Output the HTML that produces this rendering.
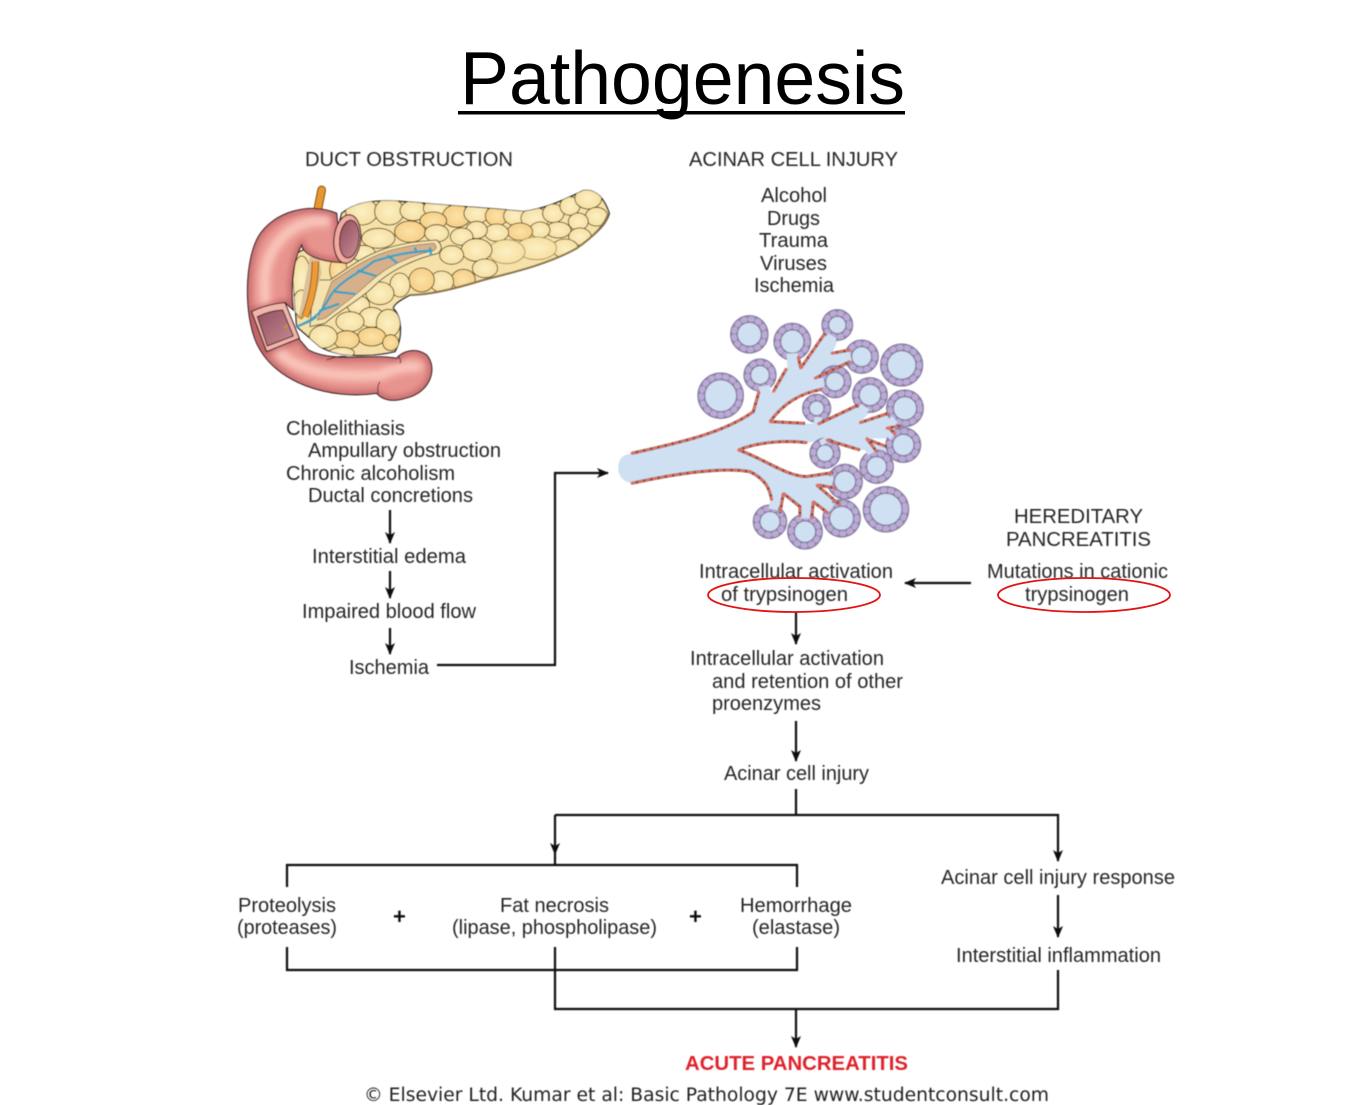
<!DOCTYPE html>
<html><head><meta charset="utf-8"><title>Pathogenesis</title>
<style>
html,body{margin:0;padding:0;background:#fff;width:1365px;height:1105px;overflow:hidden}
svg{display:block}
text{font-family:"Liberation Sans",Arial,sans-serif;font-size:20px;fill:#262626}
</style></head><body>
<svg width="1365" height="1105" viewBox="0 0 1365 1105" xmlns="http://www.w3.org/2000/svg">
<defs>
<filter id="b" x="-5%" y="-5%" width="110%" height="110%"><feGaussianBlur stdDeviation="0.45"/></filter>
<filter id="bz" x="-5%" y="-5%" width="110%" height="110%"><feGaussianBlur stdDeviation="1.8"/></filter>
<filter id="b3" x="-20%" y="-20%" width="140%" height="140%"><feGaussianBlur stdDeviation="10"/></filter>
<marker id="ah" viewBox="0 0 12 12" refX="11" refY="6" markerWidth="12" markerHeight="12" markerUnits="userSpaceOnUse" orient="auto"><path d="M0,1 L12,6 L0,11 L3,6 Z" fill="#111"/></marker>
<radialGradient id="c1"><stop offset="0" stop-color="#fcf0c4"/><stop offset="1" stop-color="#f6dfa2"/></radialGradient>
<radialGradient id="c2"><stop offset="0" stop-color="#fbe3a8"/><stop offset="1" stop-color="#f6cf86"/></radialGradient>
<linearGradient id="op" x1="0" y1="0" x2="1" y2="1"><stop offset="0" stop-color="#8f4f60"/><stop offset="1" stop-color="#c88a92"/></linearGradient>
<path id="pb" d="M335,100 C390,55 470,60 560,68 C680,80 790,85 880,95 C950,85 1000,60 1060,32 C1100,25 1125,60 1138,100 C1130,135 1090,170 1040,205 C960,250 860,275 760,300 C680,325 600,345 540,345 C510,360 490,375 490,385 C515,410 520,470 495,515 C430,530 330,535 270,500 L200,440 L190,300 L200,220 L320,160 Z"/>
<path id="dd" d="M320,100 C240,65 130,95 85,170 C45,240 40,400 80,490 C135,610 300,660 440,640 Q470,672 525,655 C600,640 625,565 590,525 C555,500 515,515 500,535 C420,520 310,550 235,510 L205,475 L110,515 L65,395 L165,368 L190,390 C180,320 190,240 215,195 C220,225 270,245 335,248 Z"/>
<clipPath id="pc"><use href="#pb"/></clipPath>
<clipPath id="dc"><use href="#dd"/></clipPath>
</defs>

<text x="460" y="104" textLength="445" lengthAdjust="spacingAndGlyphs" style="font-size:75px;fill:#000">Pathogenesis</text>
<rect x="458" y="111" width="447" height="3.5" fill="#000"/>

<!-- Pancreas -->
<g transform="translate(230,180) scale(0.3333)" filter="url(#bz)">
  <path d="M275,30 L263,90" stroke="#7a4a10" stroke-width="26" stroke-linecap="round" fill="none"/>
  <path d="M275,30 L263,90" stroke="#e8972f" stroke-width="20" stroke-linecap="round" fill="none"/>
  <use href="#pb" fill="#f6e2a8" stroke="#222" stroke-width="4"/>
  <g clip-path="url(#pc)" fill="url(#c1)" stroke="#3d2f14" stroke-width="2.5">
    <ellipse cx="395" cy="95" rx="48" ry="40"/><ellipse cx="478" cy="95" rx="44" ry="40"/><ellipse cx="550" cy="92" rx="40" ry="30"/>
    <ellipse cx="620" cy="85" rx="40" ry="26"/><ellipse cx="680" cy="108" rx="42" ry="34" fill="url(#c2)"/><ellipse cx="740" cy="100" rx="38" ry="30"/>
    <ellipse cx="800" cy="108" rx="34" ry="30" fill="url(#c2)"/><ellipse cx="855" cy="108" rx="34" ry="28"/><ellipse cx="915" cy="115" rx="42" ry="32"/>
    <ellipse cx="970" cy="100" rx="32" ry="28"/><ellipse cx="1020" cy="78" rx="30" ry="28"/><ellipse cx="1075" cy="55" rx="40" ry="32"/>
    <ellipse cx="1100" cy="110" rx="34" ry="28"/><ellipse cx="1045" cy="125" rx="30" ry="26"/><ellipse cx="985" cy="150" rx="38" ry="24"/>
    <ellipse cx="1050" cy="170" rx="34" ry="26"/><ellipse cx="1005" cy="205" rx="40" ry="28"/><ellipse cx="930" cy="150" rx="30" ry="24"/>
    <ellipse cx="870" cy="155" rx="38" ry="26" fill="url(#c2)"/><ellipse cx="800" cy="158" rx="36" ry="26"/><ellipse cx="740" cy="150" rx="32" ry="26"/>
    <ellipse cx="610" cy="122" rx="40" ry="26" fill="url(#c2)"/><ellipse cx="540" cy="155" rx="46" ry="32" fill="url(#c2)"/><ellipse cx="620" cy="160" rx="36" ry="26"/>
    <ellipse cx="695" cy="170" rx="34" ry="26"/><ellipse cx="445" cy="175" rx="50" ry="30"/>
    <ellipse cx="920" cy="205" rx="60" ry="34" stroke="#a08a50"/><ellipse cx="830" cy="215" rx="55" ry="36" stroke="#a08a50"/><ellipse cx="740" cy="210" rx="46" ry="34"/>
    <ellipse cx="665" cy="225" rx="36" ry="28"/><ellipse cx="765" cy="265" rx="38" ry="28"/><ellipse cx="700" cy="298" rx="36" ry="30" fill="url(#c2)"/>
    <ellipse cx="635" cy="305" rx="36" ry="32"/><ellipse cx="575" cy="300" rx="38" ry="36" fill="url(#c2)"/><ellipse cx="510" cy="315" rx="30" ry="36"/>
    <ellipse cx="450" cy="340" rx="42" ry="34"/><ellipse cx="385" cy="375" rx="34" ry="28"/><ellipse cx="425" cy="412" rx="38" ry="30"/>
    <ellipse cx="475" cy="430" rx="36" ry="42"/><ellipse cx="360" cy="425" rx="42" ry="30"/><ellipse cx="425" cy="470" rx="42" ry="28" fill="url(#c2)"/>
    <ellipse cx="350" cy="480" rx="38" ry="28" fill="url(#c2)"/><ellipse cx="280" cy="470" rx="42" ry="34"/><ellipse cx="482" cy="488" rx="24" ry="24" fill="url(#c2)"/>
    <ellipse cx="335" cy="518" rx="38" ry="16"/><ellipse cx="215" cy="300" rx="28" ry="72"/><ellipse cx="215" cy="370" rx="26" ry="40"/><ellipse cx="325" cy="270" rx="26" ry="40" fill="url(#c2)"/>
    <ellipse cx="400" cy="220" rx="36" ry="24"/>
  </g>
  <path d="M1135,100 C1125,135 1090,170 1040,205 C960,250 860,275 760,300 C680,325 600,345 540,345" fill="none" stroke="#8a7448" stroke-width="6"/>
  <path d="M300,300 C380,250 430,190 620,180 Q645,200 625,220 C560,235 480,270 430,320 C390,360 330,390 285,430 L240,440 L250,300 Z" fill="#f4e3ae" stroke="#3a2d18" stroke-width="2.5"/>
  <path d="M305,305 C385,255 445,200 612,190 Q625,203 610,212 C540,228 470,258 415,310 C380,345 330,380 285,415 L262,420 Z" fill="#d6b08a" stroke="#8a6a46" stroke-width="2"/>
  <path d="M240,230 L268,235 L275,280 L240,400 L205,415 Z" fill="#dcc09a"/>
  <path d="M256,245 C256,300 245,360 225,410" fill="none" stroke="#7a4a10" stroke-width="22"/>
  <path d="M256,245 C256,300 245,360 225,410" fill="none" stroke="#ee9a30" stroke-width="17"/>
  <g fill="none" stroke="#3ba2c4" stroke-width="7" stroke-linecap="round">
    <path d="M205,438 C260,415 275,395 300,350 C330,300 390,280 430,245 C490,225 540,215 605,212"/>
    <path d="M270,392 L325,372 M315,335 L375,342 M385,272 L438,288 M475,228 L500,248 M555,205 L560,215 M600,205 L603,225"/>
  </g>
  <use href="#dd" fill="#e8948e"/>
  <g clip-path="url(#dc)">
    <path d="M300,125 C200,110 120,180 105,280 C100,380 115,460 160,530 C240,590 370,590 450,585 C500,560 560,550 570,570" fill="none" stroke="#f9c4ba" stroke-width="34" filter="url(#b3)"/>
    <use href="#dd" fill="none" stroke="#b85a60" stroke-width="16" filter="url(#b3)"/>
  </g>
  <use href="#dd" fill="none" stroke="#3a2020" stroke-width="3.5"/>
  <ellipse cx="352" cy="177" rx="40" ry="73" transform="rotate(6 352 177)" fill="#f2aaa0" stroke="#3a2020" stroke-width="3.5"/>
  <ellipse cx="358" cy="177" rx="29" ry="57" transform="rotate(6 358 177)" fill="url(#op)" stroke="#3a2020" stroke-width="3"/>
  <path d="M65,395 Q110,372 165,368 L208,475 L110,515 Z" fill="#f2b5aa" stroke="#3a2020" stroke-width="3.5"/>
  <path d="M82,410 Q120,392 158,390 L190,468 L112,498 Z" fill="url(#op)" stroke="#3a2020" stroke-width="3"/>
  <path d="M290,540 Q330,525 350,530 M505,530 Q515,540 510,550 M445,640 Q440,620 450,605" fill="none" stroke="#3a2020" stroke-width="2.5"/>
  <path d="M160,440 L175,432 L170,448 Z M200,410 L225,408 L215,420 Z" fill="#c8912c"/>
  <path d="M200,440 C225,430 240,425 260,410" fill="none" stroke="#3ba2c4" stroke-width="7"/>
</g>

<!-- Acinar tree -->
<g transform="translate(610,300) scale(0.3333)" filter="url(#bz)">
  <path fill="#cfe0f2" d="M60,462 C200,430 340,400 430,335 L447,275 L490,275 L530,205 L572,205 L645,100 L690,105 L668,158 L720,150 L745,185 L615,235 L680,225 L680,265 L635,268 C570,280 520,310 480,365 L585,370 L625,372 L745,315 L790,325 L750,368 L835,340 L860,370 L840,382 L860,410 L835,415 L785,415 L830,440 L825,470 L770,450 L750,450 L650,420 L590,428 C530,420 450,425 385,450 C460,475 530,530 590,530 L670,518 L710,525 L700,565 L625,555 L690,615 L680,640 L655,640 L610,605 L605,655 L570,650 L570,620 L520,580 L510,640 L485,600 C480,570 470,540 420,515 C340,500 200,520 65,550 Q20,540 25,495 Q30,465 60,462 Z"/>
  <g fill="#cfe0f2" stroke="#8b84a4" stroke-width="24">
    <circle cx="418" cy="103" r="46"/><circle cx="332" cy="287" r="58"/><circle cx="875" cy="195" r="53"/><circle cx="828" cy="628" r="58"/>
    <circle cx="547" cy="125" r="45"/><circle cx="682" cy="75" r="36"/><circle cx="755" cy="170" r="40"/><circle cx="450" cy="225" r="38"/>
    <circle cx="675" cy="245" r="38"/><circle cx="620" cy="325" r="32"/><circle cx="780" cy="285" r="42"/><circle cx="885" cy="325" r="45"/>
    <circle cx="880" cy="435" r="42"/><circle cx="645" cy="460" r="35"/><circle cx="800" cy="500" r="40"/><circle cx="705" cy="545" r="42"/>
    <circle cx="480" cy="665" r="40"/><circle cx="585" cy="695" r="42"/><circle cx="695" cy="655" r="46"/>
  </g>
  <g fill="none" stroke="#bcaad6" stroke-width="16" stroke-dasharray="5 17" stroke-linecap="round">
    <circle cx="418" cy="103" r="46"/><circle cx="332" cy="287" r="58"/><circle cx="875" cy="195" r="53"/><circle cx="828" cy="628" r="58"/>
    <circle cx="547" cy="125" r="45"/><circle cx="682" cy="75" r="36"/><circle cx="755" cy="170" r="40"/><circle cx="450" cy="225" r="38"/>
    <circle cx="675" cy="245" r="38"/><circle cx="620" cy="325" r="32"/><circle cx="780" cy="285" r="42"/><circle cx="885" cy="325" r="45"/>
    <circle cx="880" cy="435" r="42"/><circle cx="645" cy="460" r="35"/><circle cx="800" cy="500" r="40"/><circle cx="705" cy="545" r="42"/>
    <circle cx="480" cy="665" r="40"/><circle cx="585" cy="695" r="42"/><circle cx="695" cy="655" r="46"/>
  </g>
  <g fill="none" stroke="#cfe0f2" stroke-width="30">
    <path d="M547,160 L549,205" stroke-width="34"/><path d="M668,108 L650,135"/><path d="M722,168 L695,175" stroke-width="28"/>
    <path d="M463,258 L468,285" stroke-width="34"/><path d="M642,248 L620,250" stroke-width="28"/><path d="M625,352 L622,378" stroke-width="24"/>
    <path d="M765,320 L750,345"/><path d="M855,358 L838,372" stroke-width="26"/><path d="M848,410 L832,400" stroke-width="20"/>
    <path d="M648,430 L640,415" stroke-width="28"/><path d="M785,460 L770,435" stroke-width="25"/><path d="M668,545 L650,540" stroke-width="28"/>
    <path d="M490,628 L495,600" stroke-width="28"/><path d="M585,655 L585,630"/><path d="M665,625 L650,615"/>
  </g>
  <g fill="none" stroke="#6a4640" stroke-width="9">
    <path d="M65,460 C200,430 340,400 430,335 L447,275 M65,550 C200,520 340,500 420,515 C470,540 480,570 485,600 M480,365 C520,310 570,280 635,268 M480,365 L585,370 M385,450 C450,425 530,420 590,428 M385,450 C460,475 530,530 590,530 L670,518 M490,275 L530,205 M572,205 L645,100 M565,170 L572,205 M615,235 L720,185 M665,160 L720,150 M625,372 L745,315 M750,368 L835,340 M835,382 L855,402 M830,385 L870,378 M770,418 L830,440 M770,415 L800,455 M650,420 L750,450 M620,555 L690,615 M625,555 L680,565 M520,580 L510,640 M520,580 L570,620 L570,650 M610,605 L605,655 M610,605 L655,640"/>
  </g>
  <g fill="none" stroke="#e4705e" stroke-width="7" stroke-dasharray="11 11" stroke-linecap="round">
    <path d="M65,460 C200,430 340,400 430,335 L447,275 M65,550 C200,520 340,500 420,515 C470,540 480,570 485,600 M480,365 C520,310 570,280 635,268 M480,365 L585,370 M385,450 C450,425 530,420 590,428 M385,450 C460,475 530,530 590,530 L670,518 M490,275 L530,205 M572,205 L645,100 M565,170 L572,205 M615,235 L720,185 M665,160 L720,150 M625,372 L745,315 M750,368 L835,340 M835,382 L855,402 M830,385 L870,378 M770,418 L830,440 M770,415 L800,455 M650,420 L750,450 M620,555 L690,615 M625,555 L680,565 M520,580 L510,640 M520,580 L570,620 L570,650 M610,605 L605,655 M610,605 L655,640"/>
  </g>
</g>

<g filter="url(#b)">
<!-- connectors -->
<g fill="none" stroke="#111" stroke-width="2.2">
  <path d="M390,510V543" marker-end="url(#ah)"/>
  <path d="M390,571V598" marker-end="url(#ah)"/>
  <path d="M390,628V654" marker-end="url(#ah)"/>
  <path d="M437,665H555V473H608" marker-end="url(#ah)"/>
  <path d="M971,583H905" marker-end="url(#ah)"/>
  <path d="M796,612V644" marker-end="url(#ah)"/>
  <path d="M796,721V761" marker-end="url(#ah)"/>
  <path d="M796,789V815"/>
  <path d="M555,815V854" marker-end="url(#ah)"/>
  <path d="M555,815H1058V861" marker-end="url(#ah)"/>
  <path d="M555,854V865M287,887V865H797V887"/>
  <path d="M287,947V970H797V947M555,947V1009H1058V970"/>
  <path d="M796,1009V1047" marker-end="url(#ah)"/>
  <path d="M1058,895V937" marker-end="url(#ah)"/>
</g>
<!-- labels -->
<text x="305" y="166" textLength="208" lengthAdjust="spacingAndGlyphs">DUCT OBSTRUCTION</text>
<text x="689" y="166" textLength="209" lengthAdjust="spacingAndGlyphs">ACINAR CELL INJURY</text>
<text x="761" y="202" textLength="66" lengthAdjust="spacingAndGlyphs">Alcohol</text>
<text x="767" y="225" textLength="53" lengthAdjust="spacingAndGlyphs">Drugs</text>
<text x="759" y="247" textLength="69" lengthAdjust="spacingAndGlyphs">Trauma</text>
<text x="760" y="270" textLength="67" lengthAdjust="spacingAndGlyphs">Viruses</text>
<text x="754" y="292" textLength="80" lengthAdjust="spacingAndGlyphs">Ischemia</text>
<text x="286" y="435" textLength="119" lengthAdjust="spacingAndGlyphs">Cholelithiasis</text>
<text x="308" y="457" textLength="193" lengthAdjust="spacingAndGlyphs">Ampullary obstruction</text>
<text x="286" y="480" textLength="169" lengthAdjust="spacingAndGlyphs">Chronic alcoholism</text>
<text x="308" y="502" textLength="165" lengthAdjust="spacingAndGlyphs">Ductal concretions</text>
<text x="312" y="563" textLength="154" lengthAdjust="spacingAndGlyphs">Interstitial edema</text>
<text x="302" y="618" textLength="174" lengthAdjust="spacingAndGlyphs">Impaired blood flow</text>
<text x="349" y="674" textLength="80" lengthAdjust="spacingAndGlyphs">Ischemia</text>
<text x="1014" y="523" textLength="129" lengthAdjust="spacingAndGlyphs">HEREDITARY</text>
<text x="1006" y="546" textLength="145" lengthAdjust="spacingAndGlyphs">PANCREATITIS</text>
<text x="987" y="578" textLength="181" lengthAdjust="spacingAndGlyphs">Mutations in cationic</text>
<text x="1025" y="601" textLength="104" lengthAdjust="spacingAndGlyphs">trypsinogen</text>
<text x="699" y="578" textLength="194" lengthAdjust="spacingAndGlyphs">Intracellular activation</text>
<text x="721" y="601" textLength="127" lengthAdjust="spacingAndGlyphs">of trypsinogen</text>
<text x="690" y="665" textLength="194" lengthAdjust="spacingAndGlyphs">Intracellular activation</text>
<text x="712" y="688" textLength="191" lengthAdjust="spacingAndGlyphs">and retention of other</text>
<text x="712" y="710" textLength="109" lengthAdjust="spacingAndGlyphs">proenzymes</text>
<text x="724" y="780" textLength="145" lengthAdjust="spacingAndGlyphs">Acinar cell injury</text>
<text x="941" y="884" textLength="234" lengthAdjust="spacingAndGlyphs">Acinar cell injury response</text>
<text x="956" y="962" textLength="205" lengthAdjust="spacingAndGlyphs">Interstitial inflammation</text>
<text x="238" y="912" textLength="98" lengthAdjust="spacingAndGlyphs">Proteolysis</text>
<text x="237" y="934" textLength="100" lengthAdjust="spacingAndGlyphs">(proteases)</text>
<text x="500" y="912" textLength="109" lengthAdjust="spacingAndGlyphs">Fat necrosis</text>
<text x="452" y="934" textLength="205" lengthAdjust="spacingAndGlyphs">(lipase, phospholipase)</text>
<text x="740" y="912" textLength="112" lengthAdjust="spacingAndGlyphs">Hemorrhage</text>
<text x="752" y="934" textLength="88" lengthAdjust="spacingAndGlyphs">(elastase)</text>
<text x="393" y="924" style="font-size:22px;font-weight:bold;fill:#111">+</text>
<text x="689" y="924" style="font-size:22px;font-weight:bold;fill:#111">+</text>
<text x="685" y="1070" textLength="223" lengthAdjust="spacingAndGlyphs" style="font-weight:bold;fill:#e0242a">ACUTE PANCREATITIS</text>
<text x="364" y="1101" textLength="685" lengthAdjust="spacingAndGlyphs" style="font-family:'DejaVu Sans',sans-serif;font-size:18.5px;fill:#222">© Elsevier Ltd. Kumar et al: Basic Pathology 7E www.studentconsult.com</text>
</g>
<ellipse cx="794" cy="595" rx="86" ry="17" fill="none" stroke="#e01414" stroke-width="1.8"/>
<ellipse cx="1084" cy="595" rx="86" ry="17" fill="none" stroke="#e01414" stroke-width="1.8"/>
</svg>
</body></html>
